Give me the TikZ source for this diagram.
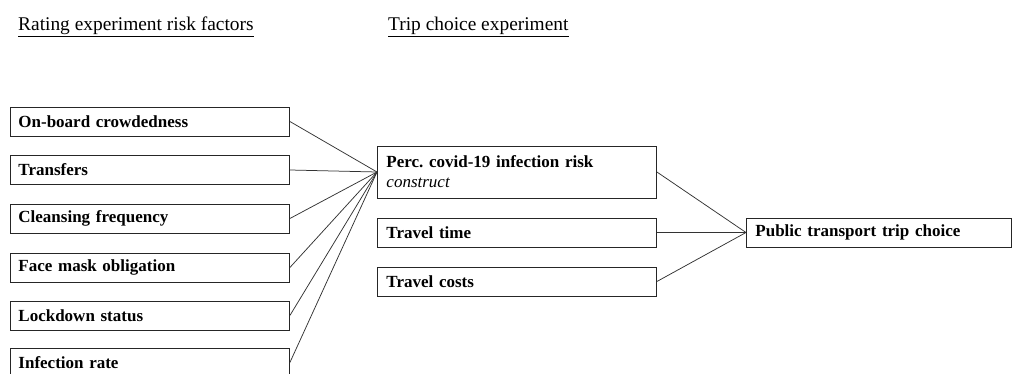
\documentclass[tikz,border=0pt]{standalone}
\usepackage{fontspec}
\setmainfont{Liberation Serif}
\usetikzlibrary{positioning}

\begin{document}
\begin{tikzpicture}[
  x=1pt, y=1pt,
  font=\fontsize{17}{20}\selectfont,
  box/.style={draw=black!85, line width=0.9pt, anchor=west, align=left,
              text width=261pt, minimum height=29pt, inner xsep=9pt, inner ysep=3pt,
              font=\fontsize{17}{20}\selectfont\bfseries},
  head/.style={anchor=base west, inner sep=0pt, font=\fontsize{19.4}{22}\selectfont},
  link/.style={draw=black!80, line width=0.75pt}
]
\useasboundingbox (0,0) rectangle (1012,-374);

\node[head] (h1) at (18,-31) {\underline{Rating experiment risk factors}};
\node[head] (h2) at (388,-31) {\underline{Trip choice experiment}};

\node[box, inner xsep=8pt, text width=263pt] (crowd) at (10,-121.5) {On-board crowdedness};
\node[box, inner xsep=8pt, text width=263pt] (trans) at (10,-170) {Transfers};
\node[box, inner xsep=8pt, text width=263pt] (clean) at (10,-218.5) {Cleansing frequency};
\node[box, inner xsep=8pt, text width=263pt] (mask) at (10,-267.5) {Face mask obligation};
\node[box, inner xsep=8pt, text width=263pt] (lock) at (10,-315.5) {Lockdown status};
\node[box, inner xsep=8pt, text width=263pt] (infr) at (10,-362.5) {Infection rate};

\node[box, minimum height=52pt] (risk) at (377,-172) {Perc.\ covid-19 infection risk\\\mdseries\itshape construct};
\node[box] (time) at (377,-232.5) {Travel time};
\node[box] (cost) at (377,-281.5) {Travel costs};

\node[box, text width=247pt] (choice) at (746,-232.5) {Public transport trip choice};

\draw[link] (crowd.east) -- (risk.west);
\draw[link] (trans.east) -- (risk.west);
\draw[link] (clean.east) -- (risk.west);
\draw[link] (mask.east) -- (risk.west);
\draw[link] (lock.east) -- (risk.west);
\draw[link] (infr.east) -- (risk.west);

\draw[link] (risk.east) -- (choice.west);
\draw[link] (time.east) -- (choice.west);
\draw[link] (cost.east) -- (choice.west);
\end{tikzpicture}
\end{document}
